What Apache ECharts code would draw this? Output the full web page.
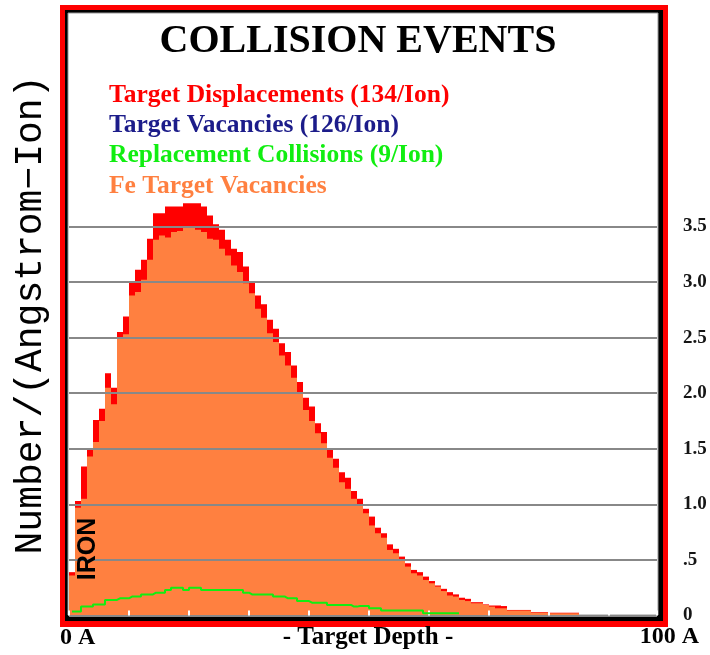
<!DOCTYPE html>
<html>
<head>
<meta charset="utf-8">
<title>Collision Events</title>
<script src="https://cdn.jsdelivr.net/npm/echarts@6/dist/echarts.min.js"></script>
<style>
  html, body { margin: 0; padding: 0; background: #fff; }
  #chart { width: 710px; height: 655px; }
</style>
</head>
<body>
<div id="chart"></div>
<script>
// depth bins (1 A each)
var depthBins = [
  0, 1, 2, 3, 4, 5, 6, 7, 8, 9,
  10, 11, 12, 13, 14, 15, 16, 17, 18, 19,
  20, 21, 22, 23, 24, 25, 26, 27, 28, 29,
  30, 31, 32, 33, 34, 35, 36, 37, 38, 39,
  40, 41, 42, 43, 44, 45, 46, 47, 48, 49,
  50, 51, 52, 53, 54, 55, 56, 57, 58, 59,
  60, 61, 62, 63, 64, 65, 66, 67, 68, 69,
  70, 71, 72, 73, 74, 75, 76, 77, 78, 79,
  80, 81, 82, 83, 84, 85, 86, 87, 88, 89,
  90, 91, 92, 93, 94, 95, 96, 97
];

var displacements = [
  0.39, 1.03, 1.34, 1.49, 1.76, 1.86, 2.18, 2.05, 2.55, 2.69,
  3.00, 3.11, 3.20, 3.39, 3.62, 3.62, 3.68, 3.68, 3.68, 3.71,
  3.71, 3.71, 3.68, 3.60, 3.52, 3.47, 3.38, 3.30, 3.27, 3.14,
  3.00, 2.88, 2.80, 2.66, 2.58, 2.45, 2.37, 2.25, 2.10, 1.96,
  1.88, 1.73, 1.65, 1.50, 1.41, 1.29, 1.24, 1.12, 1.05, 0.96,
  0.89, 0.79, 0.74, 0.64, 0.60, 0.53, 0.47, 0.41, 0.39, 0.35,
  0.31, 0.27, 0.24, 0.21, 0.19, 0.16, 0.15, 0.12, 0.12, 0.10,
  0.09, 0.09, 0.085, 0.05, 0.05, 0.05, 0.05, 0.03, 0.03, 0.03,
  0.025, 0.025, 0.025, 0.025, 0.025, 0, 0, 0, 0, 0,
  0, 0, 0, 0, 0, 0, 0, 0
];

var feVacancies = [
  0.36, 0.97, 1.05, 1.43, 1.56, 1.75, 2.05, 1.90, 2.50, 2.53,
  2.88, 2.91, 3.02, 3.20, 3.38, 3.42, 3.40, 3.45, 3.46, 3.49,
  3.50, 3.47, 3.45, 3.39, 3.38, 3.30, 3.24, 3.15, 3.09, 2.99,
  2.90, 2.76, 2.68, 2.54, 2.46, 2.34, 2.25, 2.14, 2.01, 1.85,
  1.75, 1.64, 1.55, 1.42, 1.33, 1.20, 1.14, 1.05, 0.99, 0.92,
  0.81, 0.74, 0.70, 0.59, 0.56, 0.50, 0.44, 0.38, 0.36, 0.32,
  0.29, 0.26, 0.22, 0.18, 0.17, 0.14, 0.13, 0.11, 0.11, 0.095,
  0.08, 0.065, 0.065, 0.045, 0.045, 0.045, 0.045, 0.025, 0.025, 0.025,
  0.02, 0.02, 0.02, 0.02, 0.02, 0, 0, 0, 0, 0,
  0, 0, 0, 0, 0, 0, 0, 0
];

var replacements = [
  0.035, 0.035, 0.08, 0.08, 0.10, 0.10, 0.14, 0.14, 0.155, 0.155,
  0.17, 0.17, 0.19, 0.19, 0.205, 0.205, 0.23, 0.25, 0.25, 0.23,
  0.25, 0.25, 0.23, 0.23, 0.23, 0.23, 0.23, 0.23, 0.23, 0.205,
  0.19, 0.19, 0.19, 0.19, 0.17, 0.17, 0.155, 0.155, 0.13, 0.13,
  0.115, 0.115, 0.115, 0.095, 0.095, 0.095, 0.095, 0.08, 0.085, 0.085,
  0.065, 0.065, 0.045, 0.045, 0.045, 0.045, 0.045, 0.045, 0.045, 0.02,
  0.02, 0.02, 0.02, 0.02, 0.02, null, null, null, null, null,
  null, null, null, null, null, null, null, null, null, null,
  null, null, null, null, null, null, null, null, null, null,
  null, null, null, null, null, null, null, null
];

var legendLines = [
  { text: 'Target Displacements (134/Ion)', color: '#ff0000' },
  { text: 'Target Vacancies (126/Ion)', color: '#1c1c8a' },
  { text: 'Replacement Collisions (9/Ion)', color: '#11ee11' },
  { text: 'Fe Target Vacancies', color: '#ff8040' }
];

var serif = "'Liberation Serif', 'Times New Roman', serif";

var chart = echarts.init(document.getElementById('chart'));

// frame + texts
var graphics = [
  { type: 'rect', z: 0, shape: { x: 60, y: 5, width: 608, height: 622 }, style: { fill: '#ff0000' } },
  { type: 'rect', z: 0, shape: { x: 65, y: 10, width: 598, height: 611 }, style: { fill: '#000' } },
  { type: 'rect', z: 0, shape: { x: 68, y: 13, width: 590, height: 602 }, style: { fill: '#fff', stroke: '#999', lineWidth: 1 } },
  {
    type: 'text', z: 20, x: 358, y: 42,
    style: { text: 'COLLISION EVENTS', font: 'bold 40px ' + serif, fill: '#000', textAlign: 'center', textVerticalAlign: 'middle' }
  },
  {
    type: 'text', z: 20, x: 31, y: 315, rotation: Math.PI / 2,
    style: { text: 'Number/(Angstrom\u2212Ion)', font: "38px 'Liberation Mono', 'Courier New', monospace", fill: '#000', textAlign: 'center', textVerticalAlign: 'middle' }
  },
  {
    type: 'text', z: 20, x: 88, y: 549, rotation: Math.PI / 2,
    style: { text: 'IRON', font: "bold 25px 'Liberation Sans', Arial, sans-serif", fill: '#000', textAlign: 'center', textVerticalAlign: 'middle' }
  },
  {
    type: 'text', z: 20, x: 60, y: 638,
    style: { text: '0 A', font: 'bold 24px ' + serif, fill: '#000', textAlign: 'left', textVerticalAlign: 'middle' }
  },
  {
    type: 'text', z: 20, x: 368, y: 638,
    style: { text: '- Target Depth -', font: 'bold 25px ' + serif, fill: '#000', textAlign: 'center', textVerticalAlign: 'middle' }
  },
  {
    type: 'text', z: 20, x: 699, y: 637,
    style: { text: '100 A', font: 'bold 24px ' + serif, fill: '#000', textAlign: 'right', textVerticalAlign: 'middle' }
  }
];

legendLines.forEach(function (l, i) {
  graphics.push({
    type: 'text', z: 20, x: 109, y: [95, 125, 155, 186][i],
    style: { text: l.text, font: 'bold 25.5px ' + serif, fill: l.color, textAlign: 'left', textVerticalAlign: 'middle' }
  });
});

var option = {
  animation: false,
  backgroundColor: '#fff',
  grid: { left: 69, right: 53, top: 226.5, bottom: 39.5 },
  graphic: { elements: graphics },
  xAxis: {
    type: 'category',
    data: depthBins,
    boundaryGap: true,
    z: 5,
    axisLine: { show: false },
    axisLabel: { show: false },
    axisTick: {
      show: true,
      inside: true,
      length: 5,
      interval: function (i) { return i % 10 === 0; },
      lineStyle: { color: '#fff', width: 2 }
    },
    splitLine: { show: false }
  },
  yAxis: {
    type: 'value',
    position: 'right',
    min: 0,
    max: 3.5,
    interval: 0.5,
    z: 5,
    axisLine: { show: false },
    axisTick: { show: false },
    axisLabel: {
      margin: 26,
      fontFamily: serif,
      fontWeight: 'bold',
      fontSize: 19,
      color: '#151515',
      formatter: function (v) {
        if (v === 0) return '0';
        if (v === 0.5) return '.5';
        return v.toFixed(1);
      }
    },
    splitLine: { lineStyle: { color: '#888', width: 2 } }
  },
  series: [
    {
      name: 'Target Displacements',
      type: 'bar',
      data: displacements,
      barGap: '-100%',
      barCategoryGap: '0%',
      clip: false,
      z: 2,
      itemStyle: { color: '#ff0000' }
    },
    {
      name: 'Fe Target Vacancies',
      type: 'bar',
      data: feVacancies,
      barGap: '-100%',
      barCategoryGap: '0%',
      clip: false,
      z: 3,
      itemStyle: { color: '#ff8040' }
    },
    {
      name: 'Replacement Collisions',
      type: 'line',
      data: replacements,
      step: 'middle',
      symbol: 'none',
      z: 8,
      lineStyle: { color: '#11ee11', width: 2 }
    }
  ]
};

chart.setOption(option);
</script>
</body>
</html>
